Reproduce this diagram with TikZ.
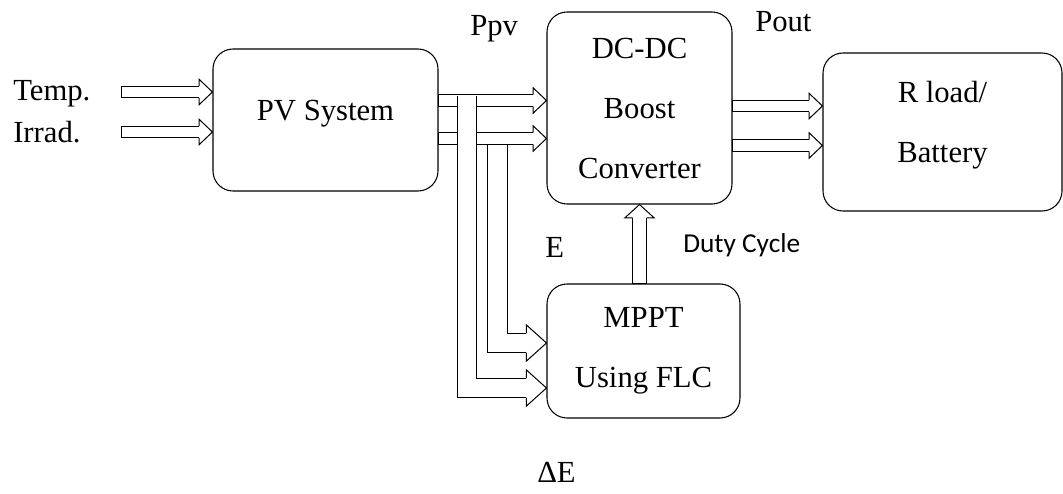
\documentclass[tikz,border=0pt]{standalone}
\usepackage{fontspec}
\setmainfont{Liberation Serif}
\newfontfamily\calib{Carlito}
\usepackage{tikz}
\usetikzlibrary{
  arrows.meta,
  calc
}

% open block-arrow head, the shaft runs into it
\pgfdeclarearrow{
  name=Hollow,
  parameters={\the\pgfarrowlength,\the\pgfarrowwidth,\the\pgfarrowinset},
  setup code={
    \pgfarrowssettipend{0pt}
    \pgfarrowssetlineend{-\pgfarrowlength}
    \pgfarrowssetbackend{-\pgfarrowlength}
    \pgfarrowssetvisualbackend{-\pgfarrowlength}
    \pgfarrowsupperhullpoint{-\pgfarrowlength}{.5\pgfarrowwidth}
    \pgfarrowsupperhullpoint{0pt}{0pt}
    \pgfarrowssavethe\pgfarrowlength
    \pgfarrowssavethe\pgfarrowwidth
    \pgfarrowssavethe\pgfarrowinset
  },
  drawing code={
    \pgfsetlinewidth{0.75pt}
    \pgfsetdash{}{0pt}
    \pgfsetmiterjoin
    \pgfsetfillcolor{white}
    \pgfpathmoveto{\pgfqpoint{-\pgfarrowlength}{.5\pgfarrowwidth}}
    \pgfpathlineto{\pgfqpoint{0pt}{0pt}}
    \pgfpathlineto{\pgfqpoint{-\pgfarrowlength}{-.5\pgfarrowwidth}}
    \pgfpathclose
    \pgfusepathqfill
    \pgfpathmoveto{\pgfqpoint{-\pgfarrowlength}{\pgfarrowinset}}
    \pgfpathlineto{\pgfqpoint{-\pgfarrowlength}{.5\pgfarrowwidth}}
    \pgfpathlineto{\pgfqpoint{0pt}{0pt}}
    \pgfpathlineto{\pgfqpoint{-\pgfarrowlength}{-.5\pgfarrowwidth}}
    \pgfpathlineto{\pgfqpoint{-\pgfarrowlength}{-\pgfarrowinset}}
    \pgfusepathqstroke
  },
  defaults={length=10pt,width=19pt,inset=4.4pt}
}

% closed tail of a block arrow
\pgfdeclarearrow{
  name=Shut,
  parameters={\the\pgfarrowinset},
  setup code={
    \pgfarrowssettipend{0pt}
    \pgfarrowssetlineend{0pt}
    \pgfarrowssetbackend{0pt}
    \pgfarrowssetvisualbackend{0pt}
    \pgfarrowsupperhullpoint{0pt}{\pgfarrowinset}
    \pgfarrowssavethe\pgfarrowinset
  },
  drawing code={
    \pgfsetlinewidth{0.75pt}
    \pgfsetrectcap
    \pgfpathmoveto{\pgfqpoint{0pt}{\pgfarrowinset}}
    \pgfpathlineto{\pgfqpoint{0pt}{-\pgfarrowinset}}
    \pgfusepathqstroke
  },
  defaults={inset=4.4pt}
}

\begin{document}
\begin{tikzpicture}[
  x=0.75pt, y=-0.75pt,
  font=\fontsize{23}{45}\selectfont,
  block/.style={
    rectangle,
    rounded corners=15pt,
    draw,
    line width=0.8pt,
    align=center,
    inner sep=0pt
  },
  lab/.style={
    inner sep=0pt,
    anchor=base west
  },
  blk/.style={
    double,
    double distance=8pt,
    line width=0.75pt,
    {Shut[inset=4.4pt]}-{Hollow[length=10pt,width=19pt,inset=4.4pt]}
  },
  blkv/.style={
    double,
    double distance=9.75pt,
    line width=0.75pt,
    {Shut[inset=5.25pt]}-{Hollow[length=10pt,width=22pt,inset=5.25pt]}
  },
  bent/.style={
    double,
    double distance=13.9pt,
    line width=0.75pt,
    line join=miter,
    -{Hollow[length=15pt,width=27pt,inset=7.3pt]}
  }
]
\useasboundingbox (0,0) rectangle (1063,493);

\node[block, minimum width=168.75pt, minimum height=106.5pt, text depth=14pt] (pv) at (325.5,120) {PV System};
\node[block, minimum width=138.75pt, minimum height=144pt] (dcdc) at (639.5,108) {DC-DC\\Boost\\Converter};
\node[block, minimum width=179.25pt, minimum height=118.5pt, text depth=15.5pt] (rload) at (942.5,132) {R load/\\Battery};
\node[block, minimum width=144.75pt, minimum height=100.5pt] (mppt) at (643.5,351) {MPPT\\Using FLC};

\node[lab] (temp) at (13,100) {Temp.};
\node[lab] (irrad) at (13,142) {Irrad.};
\node[lab] (ppv) at (470,35) {Ppv};
\node[lab] (pout) at (755,31) {Pout};
\node[lab] (elab) at (545,257) {E};
\node[lab] (delab) at (537,482) {ΔE};
\node[lab, font=\calib\fontsize{20.5}{24}\selectfont] (duty) at (683,252) {Duty Cycle};

\coordinate (tin1) at (121,92);
\coordinate (tin2) at (121,132);
\coordinate (br1) at (467,96);
\coordinate (br2) at (497.5,145);

% inputs
\draw[blk] (tin1) -- (tin1 -| pv.west);
\draw[blk] (tin2) -- (tin2 -| pv.west);

% power path
\draw[blk] ($(pv.east)+(0,-19.5)$) -- ($(pv.east -| dcdc.west)+(0,-19.5)$);
\draw[blk] ($(pv.east)+(0,18.5)$) -- ($(pv.east -| dcdc.west)+(0,18.5)$);
\draw[blk] ($(dcdc.east)+(0,-2)$) -- ($(dcdc.east -| rload.west)+(0,-2)$);
\draw[blk] ($(dcdc.east)+(0,37.5)$) -- ($(dcdc.east -| rload.west)+(0,37.5)$);

% feedback to MPPT
\draw[bent] (br1) |- (mppt.west |- 0,388);
\draw[bent] (br2) |- (mppt.west |- 0,343);

\draw[blkv] (dcdc.south |- mppt.north) -- (dcdc.south);

\end{tikzpicture}
\end{document}
